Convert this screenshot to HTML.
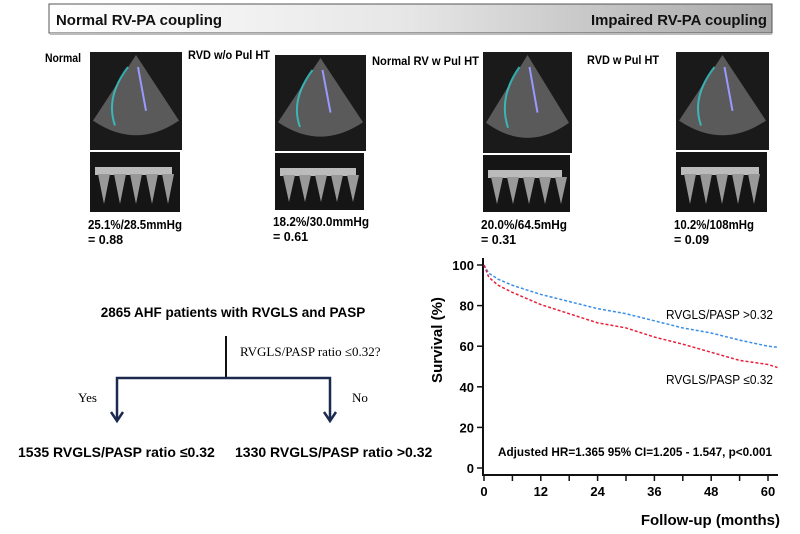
<!DOCTYPE html>
<html><head><meta charset="utf-8"><style>
body{margin:0;background:#fff;width:800px;height:534px;overflow:hidden;font-family:"Liberation Sans",sans-serif}
svg{display:block}
</style></head><body>
<svg width="800" height="534" viewBox="0 0 800 534">
<defs>
<linearGradient id="hg" x1="0" x2="1"><stop offset="0" stop-color="#ffffff"/><stop offset="0.5" stop-color="#e6e6e6"/><stop offset="1" stop-color="#a8a8a8"/></linearGradient>
</defs>
<g>
<rect x="49" y="4" width="723" height="29" fill="url(#hg)" stroke="#555" stroke-width="1"/>
<line x1="50" y1="34" x2="772" y2="34" stroke="#bbb" stroke-width="2"/>
<text x="56" y="25" font-size="15" font-weight="bold" textLength="166" lengthAdjust="spacingAndGlyphs" fill="#111">Normal RV-PA coupling</text>
<text x="767" y="25" font-size="15" font-weight="bold" text-anchor="end" textLength="176" lengthAdjust="spacingAndGlyphs" fill="#111">Impaired RV-PA coupling</text>
</g>
<g id="echoes"></g>
<g font-weight="bold" font-size="13.5">
<text x="233" y="317" text-anchor="middle">2865 AHF patients with RVGLS and PASP</text>
<line x1="226" y1="336" x2="226" y2="379" stroke="#111" stroke-width="2"/>
<polyline points="117,420 117,378 330,378 330,420" fill="none" stroke="#1c2a50" stroke-width="2.5"/>
<path d="M111,412 L117,421 L123,412" fill="none" stroke="#1c2a50" stroke-width="2.5"/>
<path d="M324,412 L330,421 L336,412" fill="none" stroke="#1c2a50" stroke-width="2.5"/>
<text x="240" y="356" font-weight="normal" font-size="13" font-family="Liberation Serif, serif">RVGLS/PASP ratio ≤0.32?</text>
<text x="78" y="402" font-weight="normal" font-size="13" font-family="Liberation Serif, serif">Yes</text>
<text x="352" y="402" font-weight="normal" font-size="13" font-family="Liberation Serif, serif">No</text>
<text x="18" y="457" font-size="14">1535 RVGLS/PASP ratio ≤0.32</text>
<text x="235" y="457" font-size="14">1330 RVGLS/PASP ratio &gt;0.32</text>
</g>
<g id="chart"></g>
</svg>
<script>
const NS="http://www.w3.org/2000/svg";
function mk(p,t,a,txt){const e=document.createElementNS(NS,t);for(const k in a)e.setAttribute(k,a[k]);if(txt!==undefined)e.textContent=txt;p.appendChild(e);return e;}
// echo panels
const panelLabels=["Normal","RVD w/o Pul HT","Normal RV w Pul HT","RVD w Pul HT"];
const panelRatios=["25.1%/28.5mmHg","18.2%/30.0mmHg","20.0%/64.5mHg","10.2%/108mHg"];
const panelValues=["= 0.88","= 0.61","= 0.31","= 0.09"];
const geo=[{lx:45,ly:62,lw:36,x:90,w:92,y:52,h:98,dy:152,dh:60,ty:229,tw:94},{lx:188,ly:59,lw:82,x:275,w:91,y:55,h:96,dy:153,dh:57,ty:226,tw:96},{lx:372,ly:65,lw:107,x:483,w:89,y:52,h:101,dy:155,dh:57,ty:229,tw:86},{lx:587,ly:64,lw:72,x:676,w:93,y:52,h:98,dy:152,dh:60,ty:229,tw:80}];
const eg=document.getElementById('echoes');
geo.forEach((g,i)=>{
  const lab=mk(eg,'text',{x:g.lx,y:g.ly,'font-size':12,'font-weight':'bold',textLength:g.lw,lengthAdjust:'spacingAndGlyphs'},panelLabels[i]);
  
  
  const r=mk(eg,'rect',{x:g.x,y:g.y,width:g.w,height:g.h,fill:'#1a1a1a'});
  
  
  const cx=g.x+g.w/2;
  mk(eg,'path',{d:`M${cx},${g.y+3} L${g.x+g.w-3},${g.y+g.h*0.7} Q${cx},${g.y+g.h} ${g.x+3},${g.y+g.h*0.7} Z`,fill:'#6a6a6a',opacity:0.8});
  mk(eg,'path',{d:`M${cx-8},${g.y+15} Q${g.x+15},${g.y+45} ${g.x+25},${g.y+g.h*0.75}`,fill:'none',stroke:'#3cc',"stroke-width":2,opacity:0.8});
  mk(eg,'path',{d:`M${cx+2},${g.y+15} L${cx+10},${g.y+g.h*0.6}`,fill:'none',stroke:'#99f',"stroke-width":2});
  const d=mk(eg,'rect',{x:g.x,y:g.dy,width:g.w-2,height:g.dh,fill:'#151515'});
  
  
  mk(eg,'rect',{x:g.x+5,y:g.dy+15,width:g.w-15,height:8,fill:'#bbb'});
  for(let k=0;k<5;k++)mk(eg,'path',{d:`M${g.x+8+k*16},${g.dy+22} L${g.x+14+k*16},${g.dy+g.dh-8} L${g.x+20+k*16},${g.dy+22}Z`,fill:'#999'});
  const t1=mk(eg,'text',{x:g.x-2,y:g.ty,'font-size':12.5,'font-weight':'bold',textLength:g.tw,lengthAdjust:'spacingAndGlyphs'},panelRatios[i]);
  
  
  const t2=mk(eg,'text',{x:g.x-2,y:g.ty+15,'font-size':12.5,'font-weight':'bold'},panelValues[i]);
  
  
});
// chart data
const months=[0,1,3,6,12,18,24,30,36,42,48,54,60,62];
const survHigh=[100,96,93,90,85.5,82,78.5,76,72.5,69,66.5,63,60,59.5];
const survLow=[100,94,90,86.5,80.5,76,71.5,69,64.5,61,57,53,51,49.5];
const xTicks=[0,12,24,36,48,60];
const yTicks=[0,20,40,60,80,100];
const X=v=>484+(v/60)*284;
const Y=v=>468-(v/100)*203;
const c=document.getElementById('chart');
mk(c,'line',{x1:483,y1:258,x2:483,y2:476,stroke:'#111','stroke-width':2});
mk(c,'line',{x1:483,y1:475,x2:778,y2:475,stroke:'#111','stroke-width':2});
yTicks.forEach(v=>{mk(c,'line',{x1:477,x2:483,y1:Y(v),y2:Y(v),stroke:'#111','stroke-width':1.5});
 const t=mk(c,'text',{x:474,y:Y(v)+5,'text-anchor':'end','font-size':13,'font-weight':'bold'},v);
 
 });
for(let m=0;m<=60;m+=6)mk(c,'line',{x1:X(m),x2:X(m),y1:475,y2:481,stroke:'#111','stroke-width':1.5});
xTicks.forEach(v=>{const t=mk(c,'text',{x:X(v),y:496,'text-anchor':'middle','font-size':13,'font-weight':'bold'},v);
 
 });
const yt=mk(c,'text',{x:0,y:0,transform:'translate(442,340) rotate(-90)','text-anchor':'middle','font-size':15,'font-weight':'bold'},'Survival (%)');


const xt=mk(c,'text',{x:780,y:525,'text-anchor':'end','font-size':15,'font-weight':'bold'},'Follow-up (months)');


const pts=a=>months.map((m,i)=>X(m)+','+Y(a[i])).join(' ');
const lh=mk(c,'polyline',{points:pts(survHigh),fill:'none',stroke:'#3a8ee8','stroke-width':1.5,'stroke-dasharray':'3,2'});


const ll=mk(c,'polyline',{points:pts(survLow),fill:'none',stroke:'#e8203a','stroke-width':1.5,'stroke-dasharray':'3,2'});


const l1=mk(c,'text',{x:666,y:319,'font-size':12.5,textLength:107,lengthAdjust:'spacingAndGlyphs'},'RVGLS/PASP >0.32');


const l2=mk(c,'text',{x:666,y:384,'font-size':12.5,textLength:107,lengthAdjust:'spacingAndGlyphs'},'RVGLS/PASP ≤0.32');


const hr=mk(c,'text',{x:498,y:456,'font-size':12,'font-weight':'bold',textLength:274,lengthAdjust:'spacingAndGlyphs'},'Adjusted HR=1.365 95% CI=1.205 - 1.547, p<0.001');


</script>
</body></html>
